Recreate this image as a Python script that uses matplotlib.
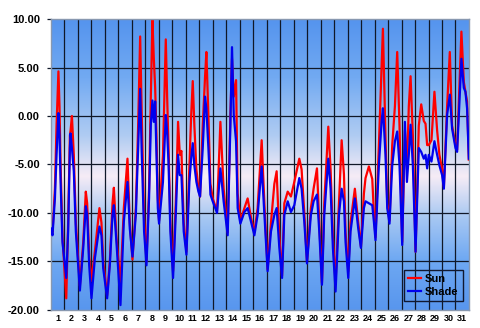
import numpy as np
import matplotlib.pyplot as plt
from matplotlib.colors import LinearSegmentedColormap

# time in days since start of the month, temperatures in deg C
day = [0.00, 0.12, 0.30, 0.42, 0.56, 0.64, 0.72, 0.86, 1.14, 1.28, 1.41, 1.46, 1.56, 1.70, 1.85,
       2.15, 2.40, 2.59, 2.69, 2.84, 3.01, 3.26, 3.60, 3.75, 3.88, 4.17, 4.37, 4.57, 4.67, 4.86,
       5.16, 5.41, 5.68, 5.85, 6.05, 6.30, 6.47, 6.62, 6.74, 6.91, 7.09, 7.28, 7.41, 7.53, 7.63,
       7.73, 7.83, 7.93, 8.02, 8.31, 8.52, 8.62, 8.72, 8.86, 9.06, 9.26, 9.43, 9.56, 9.68, 9.85,
       10.05, 10.27, 10.40, 10.52, 10.64, 10.79, 10.94, 11.06, 11.26, 11.43, 11.53, 11.68, 11.83, 12.00, 12.32,
       12.57, 12.81, 13.11, 13.31, 13.43, 13.56, 13.73, 13.85, 14.05, 14.35, 14.59, 14.84, 15.09, 15.33, 15.63,
       15.83, 16.07, 16.32, 16.57, 16.74, 16.94, 17.14, 17.31, 17.56, 17.80, 18.05, 18.42, 18.59, 18.79, 18.99,
       19.28, 19.48, 19.73, 19.90, 20.10, 20.27, 20.57, 20.74, 20.91, 21.11, 21.36, 21.56, 21.73, 21.85, 22.05,
       22.22, 22.54, 22.79, 22.99, 23.21, 23.33, 23.58, 23.83, 23.95, 24.07, 24.32, 24.52, 24.62, 24.72, 24.81,
       24.94, 25.11, 25.31, 25.51, 25.68, 25.85, 26.05, 26.25, 26.40, 26.54, 26.67, 26.84, 27.04, 27.28, 27.46,
       27.65, 27.78, 27.90, 28.02, 28.22, 28.44, 28.64, 28.81, 29.01, 29.14, 29.38, 29.58, 29.75, 30.00, 30.12,
       30.25, 30.44, 30.62, 30.74, 30.86, 30.99]

sun = [-11.2, -12.0, -7.5, -1.0, 4.6, 1.0, -5.0, -12.5, -18.8, -11.0, -2.0, -1.5, 0.0, -4.0, -11.0,
       -17.5, -13.0, -7.8, -9.0, -14.5, -17.0, -14.0, -9.5, -11.0, -15.0, -18.5, -15.0, -9.0, -7.4, -12.5,
       -17.4, -9.5, -4.4, -11.0, -14.8, -9.5, -1.0, 8.2, 0.0, -10.5, -15.0, -7.5, 2.0, 9.9, 6.0,
       3.0, -2.0, -8.5, -10.8, -4.0, 7.9, 2.0, -3.0, -11.0, -16.0, -9.0, -0.6, -4.0, -3.6, -11.0,
       -14.0, -5.0, 0.0, 3.6, -1.0, -5.5, -7.5, -8.3, -1.0, 4.0, 6.6, 0.0, -7.0, -8.5, -9.8,
       -0.6, -7.5, -12.0, 0.0, 5.9, 2.0, 3.7, -8.0, -10.8, -9.5, -8.5, -10.5, -12.0, -9.5, -2.5,
       -9.0, -15.8, -11.0, -7.0, -5.7, -12.5, -16.5, -9.0, -7.8, -8.3, -6.8, -4.4, -5.5, -10.0, -15.0,
       -9.5, -7.5, -5.4, -11.0, -17.2, -9.0, -1.1, -5.5, -12.5, -17.2, -9.0, -2.5, -6.0, -12.0, -16.0,
       -11.0, -7.5, -11.0, -13.5, -8.0, -6.4, -5.2, -6.5, -10.0, -12.5, -3.0, 5.0, 9.0, 3.0, -2.0,
       -9.0, -10.8, -3.0, 1.0, 6.6, -1.0, -13.0, -1.5, -5.5, 1.0, 4.1, -2.0, -14.0, -1.0, 1.2,
       -0.5, -0.8, -3.0, -3.0, -2.5, 2.5, -1.5, -4.0, -5.5, -7.3, 1.0, 6.6, -1.0, -3.0, -3.5,
       1.5, 8.7, 3.5, 2.5, 1.5, -4.5]

shade = [-11.6, -12.3, -8.5, -4.0, 0.3, -2.0, -6.8, -13.0, -16.7, -11.9, -3.3, -1.8, -3.3, -5.7, -11.9,
         -18.0, -13.6, -9.3, -10.2, -15.4, -18.8, -14.7, -11.4, -12.3, -15.7, -18.8, -15.4, -10.2, -9.2, -13.0,
         -19.5, -10.9, -6.8, -11.6, -14.5, -10.2, -3.3, 2.8, -4.0, -11.9, -15.4, -8.5, -0.9, 1.6, -0.6,
         1.5, -4.0, -9.5, -11.1, -6.8, 0.1, -1.6, -4.7, -11.9, -16.7, -10.2, -4.0, -6.1, -6.1, -11.9,
         -14.3, -6.8, -4.4, -2.8, -5.1, -6.8, -7.8, -8.3, -3.3, 2.0, 0.8, -3.3, -8.1, -8.8, -10.0,
         -5.4, -8.8, -12.3, -0.9, 7.1, 0.1, -2.6, -9.5, -11.1, -9.9, -9.5, -10.9, -12.3, -10.2, -5.2,
         -10.2, -16.0, -11.9, -10.2, -9.5, -13.6, -16.7, -10.2, -8.8, -9.9, -9.2, -6.4, -7.5, -10.9, -15.2,
         -10.2, -8.8, -8.1, -11.9, -17.4, -10.2, -4.4, -7.5, -13.6, -18.1, -10.2, -7.5, -8.8, -13.0, -16.7,
         -11.9, -8.5, -11.6, -13.6, -9.5, -8.8, -9.0, -9.2, -10.9, -12.8, -5.1, -0.6, 0.8, -1.6, -4.0,
         -9.5, -11.1, -5.1, -2.6, -1.6, -5.1, -13.3, -0.6, -6.8, -4.0, -0.9, -5.1, -14.0, -3.3, -3.7,
         -4.4, -4.0, -5.4, -4.0, -4.7, -2.6, -4.0, -5.1, -6.1, -7.5, 0.1, 2.2, -1.3, -3.3, -3.7,
         0.1, 5.9, 2.9, 2.5, 0.8, -4.4]

day_labels = [str(i) for i in range(1, 32)]
y_ticks = [-20, -15, -10, -5, 0, 5, 10]

plt.rcParams['font.family'] = ['Liberation Sans', 'DejaVu Sans']
plt.rcParams['font.weight'] = 'bold'

fig = plt.figure(figsize=(4.8, 3.28), dpi=100)
ax = fig.add_axes([0.106, 0.055, 0.871, 0.887])

# background: blue at top and bottom, pale pinkish band in the middle
bg = LinearSegmentedColormap.from_list(
    'bg', [(0.0, '#5896ee'), (0.17, '#6ea8f2'), (0.32, '#a8c8f2'),
           (0.46, '#f6ecf6'), (0.60, '#b0ccf2'), (0.80, '#72aaf2'),
           (1.0, '#5594ee')])
grad = np.linspace(0, 1, 256).reshape(-1, 1)
ax.imshow(grad, cmap=bg, origin='lower', aspect='auto',
          extent=[0, 1, 0, 1], transform=ax.transAxes, zorder=0)

for d in range(1, 31):
    ax.axvline(d, color='#101828', lw=0.9, zorder=1)
for v in y_ticks[1:-1]:
    ax.axhline(v, color='#101828', lw=0.9, zorder=1)

ax.plot(day, sun, color='#ff0000', lw=1.6, label='Sun', zorder=2)
ax.plot(day, shade, color='#0000ee', lw=1.6, label='Shade', zorder=3)

ax.set_xlim(0, 31)
ax.set_ylim(-20, 10)
ax.set_xticks(np.arange(31) + 0.5)
ax.set_xticklabels(day_labels, fontsize=6.5, fontweight='bold')
ax.tick_params(axis='x', length=0, pad=3)
ax.set_yticks(y_ticks)
ax.set_yticklabels([f'{v:.2f}' for v in y_ticks], fontsize=8, fontweight='bold')
ax.tick_params(axis='y', length=3, width=0.9, color='#101828', pad=5)

for s in ax.spines.values():
    s.set_color('#8898b0')
    s.set_linewidth(1.0)

leg = ax.legend(loc='lower right', bbox_to_anchor=(0.985, 0.03), fontsize=8,
                handlelength=1.2, handletextpad=0.3, borderpad=0.4,
                labelspacing=0.25, borderaxespad=0.0, fancybox=False,
                framealpha=1.0)
leg.get_frame().set_facecolor('none')
leg.get_frame().set_edgecolor('#101830')
leg.get_frame().set_linewidth(1.0)
for t in leg.get_texts():
    t.set_fontweight('bold')

fig.savefig('out.png', dpi=100)
